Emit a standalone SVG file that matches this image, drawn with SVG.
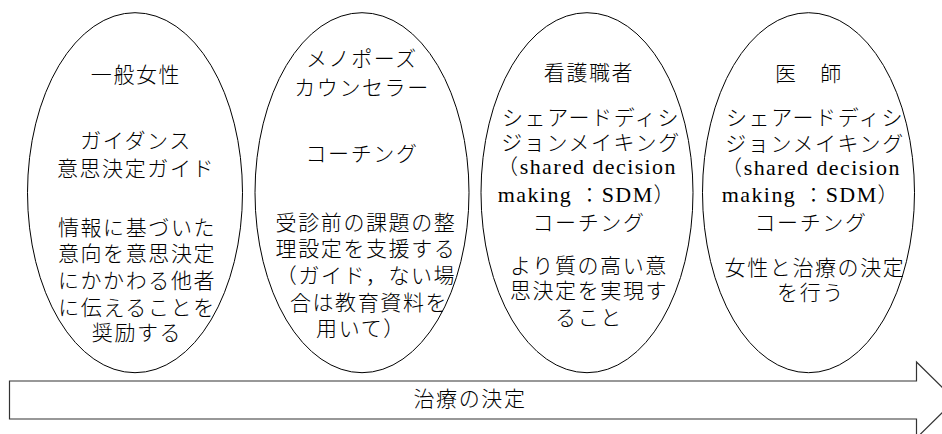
<svg xmlns="http://www.w3.org/2000/svg" width="942" height="434" viewBox="0 0 942 434">
<style>
.e { fill: #ffffff; stroke: #000000; stroke-width: 1; }
.t { font-family: "Noto Sans CJK JP", sans-serif; font-size: 21px; letter-spacing: 1.6px; text-anchor: middle; fill: #000000; font-weight: 300; }
.l { font-family: "Times New Roman", "Liberation Serif", "DejaVu Serif", serif; font-weight: 400; font-size: 22px; letter-spacing: 1.4px; text-anchor: middle; fill: #000000; }
.arrow { fill: #ffffff; stroke: #333333; stroke-width: 1.2; }
</style>
<rect width="942" height="434" fill="#ffffff"/>
<g id="connectors">
  <path class="arrow" d="M9.5,381 L916.5,381 L916.5,362 L955,400 L916.5,438 L916.5,419 L9.5,419 Z"/>
  <text class="t" x="470" y="406">治療の決定</text>
</g>
<g id="node-ippan-josei">
  <ellipse class="e" cx="135" cy="192.7" rx="107.5" ry="180"/>
  <text class="t" x="136" y="82">一般女性</text>
  <text class="t" x="136" y="148">ガイダンス</text>
  <text class="t" x="136" y="176">意思決定ガイド</text>
  <text class="t" x="137" y="235">情報に基づいた</text>
  <text class="t" x="137" y="261">意向を意思決定</text>
  <text class="t" x="137" y="288">にかかわる他者</text>
  <text class="t" x="137" y="315">に伝えることを</text>
  <text class="t" x="137" y="340">奨励する</text>
</g>
<g id="node-menopause-counselor">
  <ellipse class="e" cx="362" cy="192.7" rx="107" ry="180"/>
  <text class="t" x="362" y="66">メノポーズ</text>
  <text class="t" x="362" y="95">カウンセラー</text>
  <text class="t" x="362" y="161">コーチング</text>
  <text class="t" x="366" y="230">受診前の課題の整</text>
  <text class="t" x="366" y="256">理設定を支援する</text>
  <text class="t" x="366" y="283">（ガイド，ない場</text>
  <text class="t" x="369" y="310">合は教育資料を</text>
  <text class="t" x="361" y="336">用いて）</text>
</g>
<g id="node-kango">
  <ellipse class="e" cx="587" cy="192.7" rx="106" ry="180"/>
  <text class="t" x="589" y="80">看護職者</text>
  <text class="t" x="591" y="125">シェアードディシ</text>
  <text class="t" x="591" y="150">ジョンメイキング</text>
  <text class="l" x="587" y="174"><tspan class="t">（</tspan>shared decision</text>
  <text class="l" x="587" y="202">making <tspan class="t">：</tspan>SDM<tspan class="t">）</tspan></text>
  <text class="t" x="589" y="230">コーチング</text>
  <text class="t" x="589" y="273">より質の高い意</text>
  <text class="t" x="589" y="298">思決定を実現す</text>
  <text class="t" x="589" y="325">ること</text>
</g>
<g id="node-ishi">
  <ellipse class="e" cx="808.5" cy="192.7" rx="106" ry="180"/>
  <text class="t" x="809" y="81">医　師</text>
  <text class="t" x="815" y="125">シェアードディシ</text>
  <text class="t" x="815" y="151">ジョンメイキング</text>
  <text class="l" x="811" y="175"><tspan class="t">（</tspan>shared decision</text>
  <text class="l" x="811" y="202">making <tspan class="t">：</tspan>SDM<tspan class="t">）</tspan></text>
  <text class="t" x="811" y="230">コーチング</text>
  <text class="t" x="815" y="275">女性と治療の決定</text>
  <text class="t" x="811" y="300">を行う</text>
</g>
</svg>
